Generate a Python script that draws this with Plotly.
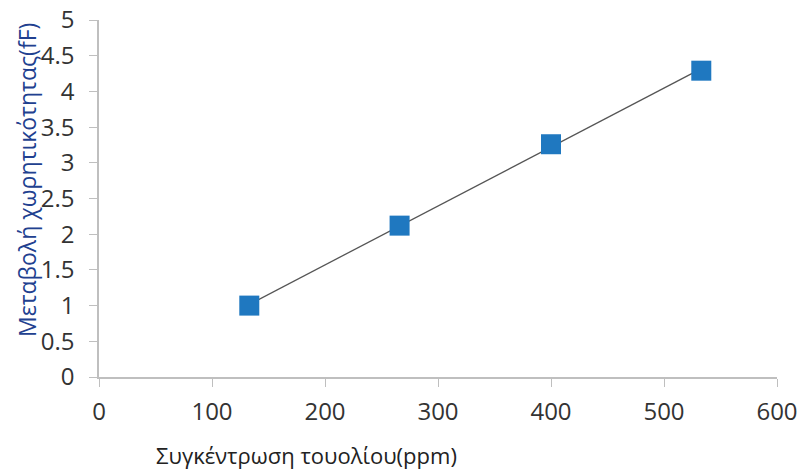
import numpy as np
import plotly.graph_objects as go

x_ppm = [133, 266, 400, 533]
y_ff = [1.0, 2.12, 3.26, 4.29]
x_ticks = [0, 100, 200, 300, 400, 500, 600]
y_ticks = [0, 0.5, 1, 1.5, 2, 2.5, 3, 3.5, 4, 4.5, 5]
x_title = "Συγκέντρωση τουολίου(ppm)"
y_title = "Μεταβολή χωρητικότητας(fF)"

slope, intercept = np.polyfit(x_ppm, y_ff, 1)
fit_x = [min(x_ppm), max(x_ppm)]
fit_y = [slope * v + intercept for v in fit_x]

fig = go.Figure()
fig.add_trace(go.Scatter(x=fit_x, y=fit_y, mode="lines",
                         line=dict(color="#555555", width=1.3), showlegend=False))
fig.add_trace(go.Scatter(x=x_ppm, y=y_ff, mode="markers",
                         marker=dict(symbol="square", size=20, color="#1f78c0",
                                     line=dict(width=0)), showlegend=False))

axis_font = dict(family="Open Sans", size=24, color="#333333")
fig.update_layout(
    width=812, height=473,
    margin=dict(l=99, r=35, t=20, b=96),
    plot_bgcolor="white", paper_bgcolor="white",
    xaxis=dict(range=[0, 600], tickvals=x_ticks, showgrid=False, zeroline=False,
               showline=True, linecolor="#bfbfbf", linewidth=1.5,
               ticks="outside", ticklen=8, tickcolor="#bfbfbf", automargin=False,
               tickfont=axis_font, ticklabelstandoff=4),
    yaxis=dict(range=[0, 5], tickvals=y_ticks, showgrid=False, zeroline=False,
               showline=True, linecolor="#bfbfbf", linewidth=1.5,
               ticks="outside", ticklen=8, tickcolor="#bfbfbf", automargin=False,
               tickfont=axis_font, ticklabelstandoff=10),
    annotations=[
        dict(text=x_title, xref="paper", yref="paper", x=(306 - 99) / 678, y=-(455 - 377) / 357,
             xanchor="center", yanchor="middle", showarrow=False,
             font=dict(family="Open Sans", size=22, color="#222222")),
        dict(text=y_title, xref="paper", yref="paper", x=-(99 - 27) / 678, y=(377 - 180) / 357,
             xanchor="center", yanchor="middle", showarrow=False, textangle=-90,
             font=dict(family="Open Sans", size=23, color="#21408f")),
    ],
)
fig.write_html("out.html")
